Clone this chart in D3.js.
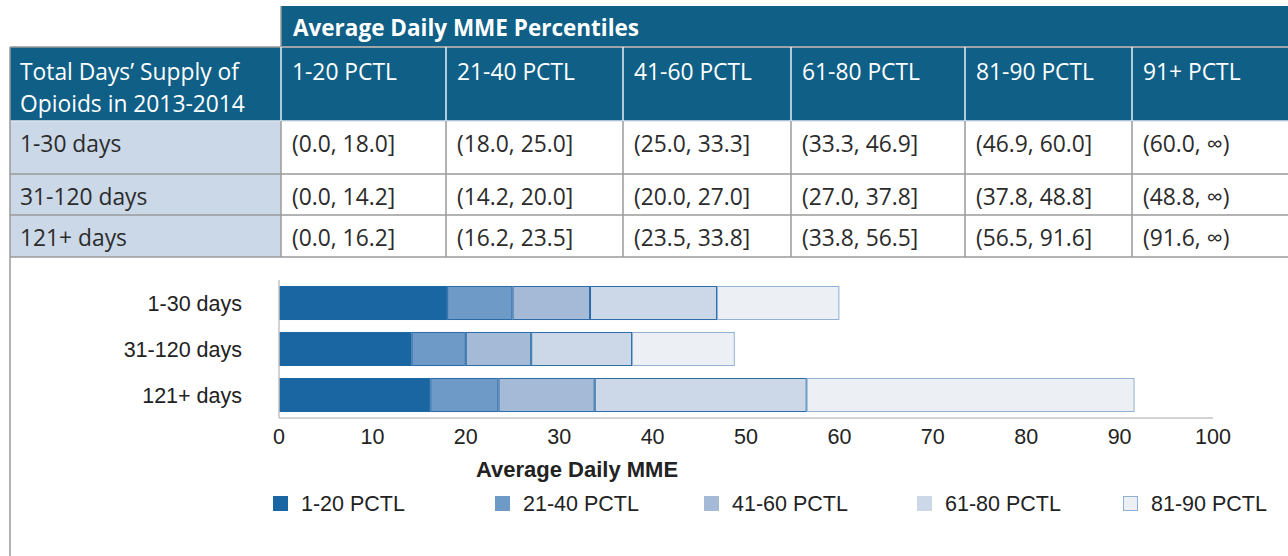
<!doctype html>
<html>
<head>
<meta charset="utf-8">
<title>Average Daily MME Percentiles</title>
<style>
    body { margin: 0; background: white; }
    .cell { font: 400 22.8px "Open Sans", sans-serif; fill: #2b2b2b; }
    .head { fill: white; }
    .title { font: 700 22.5px "Open Sans", sans-serif; fill: white; }
    .chart text { font: 21.5px "Liberation Sans", Arial, sans-serif; fill: #222; }
    .chart .axis-title { font-weight: bold; font-size: 22px; }
</style>
</head>
<body>
<script src="https://cdn.jsdelivr.net/npm/d3@7"></script>
<script>
    // data
    const groups = ["1-30 days", "31-120 days", "121+ days"];
    const pctls = ["1-20 PCTL", "21-40 PCTL", "41-60 PCTL", "61-80 PCTL", "81-90 PCTL", "91+ PCTL"];
    // upper bounds of each percentile band (last band is open ended)
    const cuts130 = [18.0, 25.0, 33.3, 46.9, 60.0];
    const cuts31120 = [14.2, 20.0, 27.0, 37.8, 48.8];
    const cuts121 = [16.2, 23.5, 33.8, 56.5, 91.6];
    const cuts = [cuts130, cuts31120, cuts121];
    const xTicks = [0, 10, 20, 30, 40, 50, 60, 70, 80, 90, 100];

    const fills = ["#1a66a3", "#6d9ac6", "#a4bad6", "#ccd8e7", "#ecf0f5"];
    const strokes = ["#1a66a3", "#2b6ba8", "#2b6ba8", "#2b6ba8", "#8fb0d5"];

    const width = 1288, height = 556;
    const svg = d3.select("body").append("svg")
        .attr("width", width)
        .attr("height", height);

    // ---- table ----
    const colX = [10, 281, 446, 623, 791, 965, 1132, 1300];
    const rowY = [121, 174, 215, 257];
    const headTop = 6, headMid = 47;
    const dark = "#0f5f87", pale = "#cbd8e8", grid = "#9a9a9a";

    const table = svg.append("g");
    table.append("rect")
        .attr("x", colX[1]).attr("y", headTop)
        .attr("width", width - colX[1]).attr("height", headMid - headTop)
        .attr("fill", dark);
    table.append("rect")
        .attr("x", colX[0]).attr("y", headMid)
        .attr("width", width - colX[0]).attr("height", rowY[0] - headMid)
        .attr("fill", dark);
    table.append("rect")
        .attr("x", colX[0]).attr("y", rowY[0])
        .attr("width", colX[1] - colX[0]).attr("height", rowY[3] - rowY[0])
        .attr("fill", pale);

    table.append("text").attr("class", "title")
        .attr("x", colX[1] + 12).attr("y", 36)
        .text("Average Daily MME Percentiles");

    // header lines
    table.append("line")
        .attr("x1", colX[1]).attr("x2", width).attr("y1", headMid).attr("y2", headMid)
        .attr("stroke", "#dfe8f0").attr("stroke-width", 1.5);
    table.append("path")
        .attr("d", `M${colX[0]} ${headMid} H${colX[1]} M${colX[1]} ${headTop} V${headMid} H${width}`)
        .attr("stroke", grid).attr("fill", "none").attr("stroke-width", 1.5);
    table.selectAll(".hsep").data(colX.slice(1, 7)).join("line")
        .attr("x1", d => d).attr("x2", d => d)
        .attr("y1", headMid).attr("y2", rowY[0])
        .attr("stroke", "#e6eef5").attr("stroke-width", 1.5);

    table.append("text").attr("class", "cell head")
        .attr("x", colX[0] + 10).attr("y", 80).text("Total Days\u2019 Supply of");
    table.append("text").attr("class", "cell head")
        .attr("x", colX[0] + 10).attr("y", 112).text("Opioids in 2013-2014");
    table.selectAll(".ph").data(pctls).join("text")
        .attr("class", "cell head")
        .attr("x", (d, i) => colX[i + 1] + 11).attr("y", 80)
        .text(d => d);

    // body grid
    table.selectAll(".rline").data(rowY).join("line")
        .attr("x1", colX[0]).attr("x2", width)
        .attr("y1", d => d).attr("y2", d => d)
        .attr("stroke", (d, i) => i === 0 ? "#dfe6ef" : grid).attr("stroke-width", 1.5);
    table.selectAll(".cline").data(colX.slice(1, 7)).join("line")
        .attr("x1", d => d).attr("x2", d => d)
        .attr("y1", rowY[0]).attr("y2", rowY[3])
        .attr("stroke", grid).attr("stroke-width", 1.5);
    table.append("line")
        .attr("x1", colX[0]).attr("x2", colX[0])
        .attr("y1", headMid).attr("y2", height)
        .attr("stroke", grid).attr("stroke-width", 1.5);

    const baseY = [152, 205, 246];
    const fmt = d3.format(".1f");
    groups.forEach((g, r) => {
        table.append("text").attr("class", "cell")
            .attr("x", colX[0] + 10).attr("y", baseY[r]).text(g);
        const bounds = [0, ...cuts[r]];
        const labels = bounds.map((b, i) => i < bounds.length - 1
            ? `(${fmt(b)}, ${fmt(bounds[i + 1])}]`
            : `(${fmt(b)}, \u221e)`);
        table.selectAll(null).data(labels).join("text")
            .attr("class", "cell")
            .attr("x", (d, i) => colX[i + 1] + 11).attr("y", baseY[r])
            .text(d => d);
    });

    // ---- bar chart ----
    const chart = svg.append("g").attr("class", "chart");
    const x = d3.scaleLinear().domain([0, 100]).range([279, 1213]);
    const y = d3.scaleBand().domain(groups).range([280, 418])
        .paddingInner(0.26).paddingOuter(0.13);

    const segs = [];
    groups.forEach((g, r) => {
        const bounds = [0, ...cuts[r]];
        cuts[r].forEach((c, i) => segs.push({ group: g, i, x0: bounds[i], x1: c }));
    });

    chart.selectAll("rect.seg").data(segs).join("rect")
        .attr("class", "seg")
        .attr("x", d => x(d.x0) + 0.5)
        .attr("y", d => y(d.group) + 0.5)
        .attr("width", d => x(d.x1) - x(d.x0) - 1)
        .attr("height", y.bandwidth() - 1)
        .attr("fill", d => fills[d.i])
        .attr("stroke", d => strokes[d.i])
        .attr("stroke-width", 1);

    chart.append("line")
        .attr("x1", x(0)).attr("x2", x(0)).attr("y1", 280).attr("y2", 418)
        .attr("stroke", "#c4c4c4").attr("stroke-width", 1.5);
    chart.append("line")
        .attr("x1", x(0)).attr("x2", x(100)).attr("y1", 418).attr("y2", 418)
        .attr("stroke", "#c4c4c4").attr("stroke-width", 1.5);

    chart.selectAll(".ylab").data(groups).join("text")
        .attr("x", 242)
        .attr("y", d => y(d) + y.bandwidth() / 2)
        .attr("dy", "0.35em")
        .attr("text-anchor", "end")
        .text(d => d);

    chart.selectAll(".tick").data(xTicks).join("text")
        .attr("x", d => x(d))
        .attr("y", 444)
        .attr("text-anchor", "middle")
        .text(d => d);

    chart.append("text").attr("class", "axis-title")
        .attr("x", 577).attr("y", 477)
        .attr("text-anchor", "middle")
        .text("Average Daily MME");

    const legX = [273, 495, 704, 917, 1123];
    const leg = chart.selectAll(".leg").data(pctls.slice(0, 5)).join("g")
        .attr("transform", (d, i) => `translate(${legX[i]}, 496)`);
    leg.append("rect")
        .attr("x", 0.5).attr("y", 0.5).attr("width", 14).attr("height", 14)
        .attr("fill", (d, i) => fills[i])
        .attr("stroke", (d, i) => i === 4 ? strokes[4] : fills[i]);
    leg.append("text")
        .attr("x", 28).attr("y", 15)
        .text(d => d);
</script>
</body>
</html>
